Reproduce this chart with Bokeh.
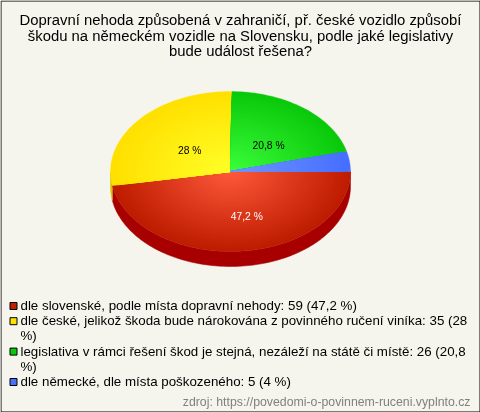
import math
from bokeh.plotting import figure
from bokeh.models import Range1d
from bokeh.core.properties import value
from bokeh.embed import file_html
from bokeh.resources import INLINE

title_lines = ["Dopravní nehoda způsobená v zahraničí, př. české vozidlo způsobí",
               "škodu na německém vozidle na Slovensku, podle jaké legislativy",
               "bude událost řešena?"]
values = [47.2, 28.0, 20.8, 4.0]
pie_labels = ["47,2 %", "28 %", "20,8 %", None]
label_colors = ["#ffffff", "#000000", "#000000", "#000000"]
inner_colors = [(255, 90, 60), (255, 255, 40), (60, 255, 60), (110, 150, 255)]
outer_colors = [(190, 28, 0), (255, 224, 0), (10, 200, 10), (70, 110, 255)]
side_colors = ["#a80000", "#d8c000", "#0a9a0a", "#3050c0"]
legend_swatches = ["#c02000", "#ffe000", "#0ac80a", "#4a70ff"]
legend_lines = [["dle slovenské, podle místa dopravní nehody: 59 (47,2 %)"],
                ["dle české, jelikož škoda bude nárokována z povinného ručení viníka: 35 (28", "%)"],
                ["legislativa v rámci řešení škod je stejná, nezáleží na státě či místě: 26 (20,8", "%)"],
                ["dle německé, dle místa poškozeného: 5 (4 %)"]]
source_text = "zdroj: https://povedomi-o-povinnem-ruceni.vyplnto.cz"

W, H = 480, 412
FONT = value("Liberation Sans")
BG = "#f5f5ed"
CX, CY, RX, RY, DEPTH = 230, 171, 120, 80, 15
STEPS = 40
LABEL_SHIFT = [11, 5, 1, 0]

p = figure(width=W, height=H, x_range=Range1d(0, W), y_range=Range1d(H, 0),
           toolbar_location=None, output_backend="svg", min_border=0,
           background_fill_color=BG, border_fill_color=BG, outline_line_color=None,
           styles={"position": "fixed", "left": "0px", "top": "0px"})
p.axis.visible = False
p.grid.visible = False

def arc(a0, a1, frac=1.0, dy=0):
    n = max(2, int(abs(a1 - a0) / 1.5))
    return ([CX + frac * RX * math.cos(math.radians(a0 + (a1 - a0) * i / n)) for i in range(n + 1)],
            [CY + dy + frac * RY * math.sin(math.radians(a0 + (a1 - a0) * i / n)) for i in range(n + 1)])

total = sum(values)
edges = [0.0]
for v in values:
    edges.append(edges[-1] + 360.0 * v / total)

# side wall (only the lower half of the ellipse is visible)
for i in range(len(values)):
    a0, a1 = max(edges[i], 0), min(edges[i + 1], 180)
    if a1 <= a0:
        continue
    tx, ty = arc(a0, a1)
    bx, by = arc(a1, a0, dy=DEPTH)
    p.patch(tx + bx, ty + by, fill_color=side_colors[i], line_color=side_colors[i], line_width=0.5)

# top face, radial gradient built of concentric wedges
for i in range(len(values)):
    xs, ys, cols = [], [], []
    for s in range(STEPS, 0, -1):
        f = s / STEPS
        ax, ay = arc(edges[i], edges[i + 1], f)
        xs.append([CX] + ax)
        ys.append([CY] + ay)
        c = [round(inner_colors[i][k] + (outer_colors[i][k] - inner_colors[i][k]) * f) for k in range(3)]
        cols.append("#%02x%02x%02x" % tuple(c))
    p.patches(xs, ys, fill_color=cols, line_color=cols, line_width=0.3)

# slice labels
for i in range(len(values)):
    if pie_labels[i] is None:
        continue
    mid = math.radians((edges[i] + edges[i + 1]) / 2)
    p.text([CX + 0.5 * RX * math.cos(mid) + LABEL_SHIFT[i]], [CY + 0.5 * RY * math.sin(mid) + 5],
           text=[pie_labels[i]], text_font=FONT, text_font_size="10.3px", text_color=label_colors[i],
           text_align="center", text_baseline="middle")

# title
for j, line in enumerate(title_lines):
    p.text([240], [19.5 + 15.5 * j], text=[line], text_font=FONT, text_font_size="14.87px",
           text_color="#000000", text_align="center", text_baseline="middle")

# legend
row = 305.5
for i, lines in enumerate(legend_lines):
    p.rect([13], [row], width=7, height=7, fill_color=legend_swatches[i], line_color="#000000",
           line_width=1, line_join="miter")
    for line in lines:
        p.text([20], [row - 0.5], text=[line], text_font=FONT, text_font_size="13.33px",
               text_color="#000000", text_align="left", text_baseline="middle")
        row += 15.2

p.text([470], [401], text=[source_text], text_font=FONT, text_font_size="12.3px",
       text_color="#808080", text_align="right", text_baseline="middle")

# outer frame
p.rect([W / 2], [H / 2], width=W - 1, height=H - 1, fill_color=None, line_color="#000000",
       line_width=1, line_join="miter")

open("out.html", "w").write(file_html(p, INLINE))
